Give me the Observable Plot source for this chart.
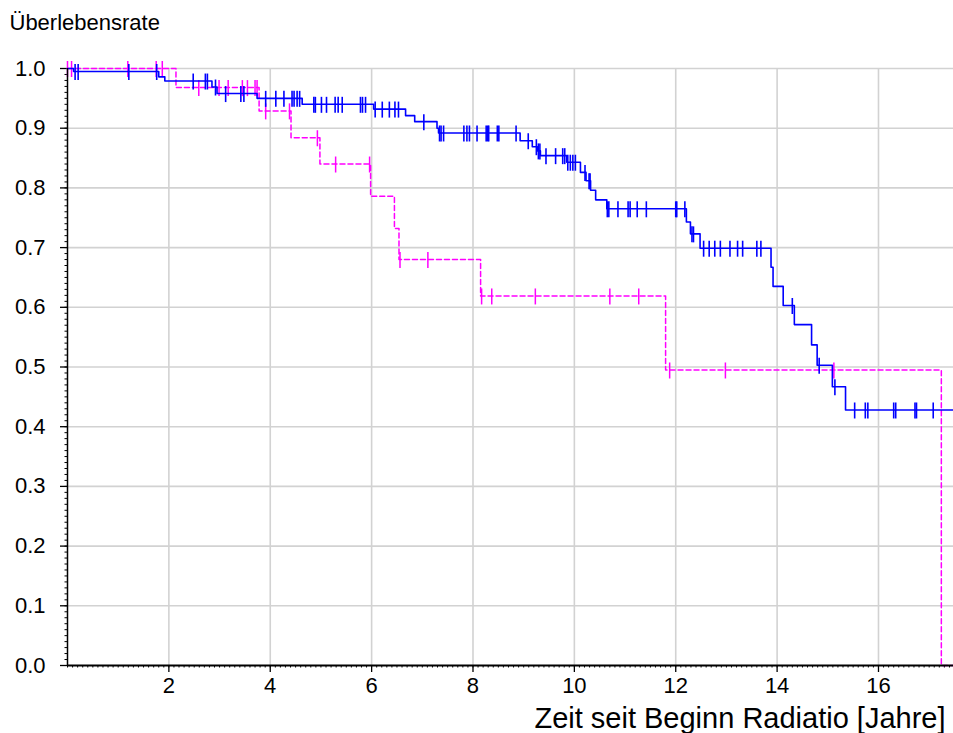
<!DOCTYPE html>
<html>
<head>
<meta charset="utf-8">
<script src="https://cdn.jsdelivr.net/npm/d3@7"></script>
<script src="https://cdn.jsdelivr.net/npm/@observablehq/plot@0.6"></script>
<style>
  html, body { margin: 0; padding: 0; background: #fff; }
  #chart svg { display: block; }
</style>
</head>
<body>
<div id="chart"></div>
<script>
// ---- data ----
const xMax = 17.48;
const xTicks = [2, 4, 6, 8, 10, 12, 14, 16];
const yTicks = [0, 0.1, 0.2, 0.3, 0.4, 0.5, 0.6, 0.7, 0.8, 0.9, 1.0];

// blue curve (solid): event times and survival after the event
const blueTimes = [0, 0.12, 1.80, 1.92, 2.85, 2.95, 3.74, 4.63, 6.04, 6.67, 6.85, 7.29, 7.32, 8.93, 9.17, 9.27, 9.33, 9.85, 10.12, 10.23, 10.32, 10.42, 10.64, 12.21, 12.29, 12.48, 13.88, 13.92, 14.12, 14.34, 14.68, 14.79, 15.09, 15.35];
const blueSurv  = [1.0, 0.995, 0.986, 0.979, 0.969, 0.958, 0.950, 0.940, 0.932, 0.921, 0.911, 0.900, 0.892, 0.879, 0.869, 0.862, 0.854, 0.843, 0.826, 0.812, 0.796, 0.780, 0.765, 0.743, 0.723, 0.699, 0.667, 0.635, 0.603, 0.571, 0.537, 0.503, 0.467, 0.428];
const blueCensor = [0.15, 0.21, 1.21, 1.76, 2.48, 2.72, 2.76, 2.92, 3.12, 3.42, 3.48, 3.91, 4.11, 4.27, 4.43, 4.47, 4.53, 4.58, 4.86, 4.89, 5.01, 5.11, 5.28, 5.34, 5.42, 5.78, 5.82, 5.88, 6.07, 6.21, 6.35, 6.46, 6.53, 7.03, 7.34, 7.37, 7.42, 7.82, 7.88, 7.93, 8.08, 8.26, 8.29, 8.31, 8.48, 8.51, 8.85, 9.09, 9.25, 9.29, 9.32, 9.44, 9.63, 9.77, 9.81, 9.87, 9.92, 9.97, 10.02, 10.21, 10.29, 10.31, 10.65, 10.68, 10.86, 11.06, 11.10, 11.24, 11.42, 12.00, 12.02, 12.18, 12.32, 12.35, 12.55, 12.66, 12.77, 12.88, 13.07, 13.22, 13.32, 13.60, 13.68, 14.30, 14.83, 15.14, 15.53, 15.74, 15.79, 16.30, 16.34, 16.72, 16.75, 17.08];

// magenta curve (dashed)
const magTimes = [0, 2.14, 3.78, 4.41, 4.98, 5.98, 6.45, 6.54, 8.15, 11.80, 17.24];
const magSurv  = [1.0, 0.968, 0.929, 0.884, 0.840, 0.786, 0.732, 0.680, 0.619, 0.495, 0.0];
const magCensor = [0.0, 0.08, 1.19, 1.75, 1.87, 2.59, 2.99, 3.17, 3.45, 3.55, 3.70, 3.74, 3.91, 4.38, 4.93, 5.29, 5.96, 6.56, 7.11, 8.17, 8.37, 9.23, 10.70, 11.27, 11.88, 12.98, 15.12];

// ---- helpers ----
function steps(times, surv, end) {
  const pts = times.map((t, i) => ({t, s: surv[i]}));
  pts.push({t: end, s: surv[surv.length - 1]});
  return pts;
}
function survAt(times, surv, t) {
  let v = surv[0];
  for (let i = 0; i < times.length; i++) if (times[i] <= t) v = surv[i];
  return v;
}
const blueLine = steps(blueTimes, blueSurv, xMax);
const magLine = steps(magTimes, magSurv, xMax);
const blueMarks = blueCensor.map(t => ({t, s: survAt(blueTimes, blueSurv, t)}));
const magMarks = magCensor.map(t => ({t, s: survAt(magTimes, magSurv, t)}));

const yMinor = d3.range(0, 101).map(i => i / 100);
const xMinor = d3.range(0, Math.floor(xMax * 10) + 1).map(i => i / 10);

const BLUE = "#0000ff";
const MAGENTA = "#ff00ff";
const GRID = "#d2d2d2";

const chart = Plot.plot({
  width: 953,
  height: 733,
  marginLeft: 67,
  marginRight: 0,
  marginTop: 68,
  marginBottom: 68,
  style: {fontFamily: "'Liberation Sans', Arial, sans-serif", fontSize: "22px", background: "#fff", color: "#000"},
  x: {domain: [0, xMax]},
  y: {domain: [0, 1]},
  marks: [
    Plot.gridX(xTicks, {stroke: GRID, strokeOpacity: 1, strokeWidth: 1.6}),
    Plot.gridY(yTicks.filter(d => d > 0), {stroke: GRID, strokeOpacity: 1, strokeWidth: 1.6}),
    Plot.axisY(yMinor, {tickSize: 2.5, tickFormat: () => "", label: null, strokeWidth: 1}),
    Plot.axisY(yTicks, {tickSize: 7, tickPadding: 15, tickFormat: d3.format(".1f"), label: null, strokeWidth: 1.3}),
    Plot.axisX(xMinor, {tickSize: 2.5, tickFormat: () => "", label: null, strokeWidth: 1}),
    Plot.axisX(xTicks, {tickSize: 7, tickPadding: 5, tickFormat: d => String(d), label: null, strokeWidth: 1.3}),
    Plot.line(magLine, {x: "t", y: "s", curve: "step-after", stroke: MAGENTA, strokeWidth: 1.5, strokeDasharray: "5,3"}),
    Plot.ruleX(magMarks, {x: "t", y1: "s", y2: "s", insetTop: -7, insetBottom: -9, stroke: MAGENTA, strokeWidth: 1.5}),
    Plot.line(blueLine, {x: "t", y: "s", curve: "step-after", stroke: BLUE, strokeWidth: 1.6}),
    Plot.ruleX(blueMarks, {x: "t", y1: "s", y2: "s", insetTop: -7, insetBottom: -9, stroke: BLUE, strokeWidth: 1.6}),
    Plot.ruleX([0], {stroke: "#000", strokeWidth: 1.5}),
    Plot.ruleY([0], {stroke: "#000", strokeWidth: 2}),
    Plot.text(["Überlebensrate"], {text: d => d, frameAnchor: "top-left", dx: -58, dy: -54, textAnchor: "start", lineAnchor: "top", fontSize: 22, fill: "#000"}),
    Plot.text(["Zeit seit Beginn Radiatio [Jahre]"], {text: d => d, frameAnchor: "bottom-right", dx: -8, dy: 42, textAnchor: "end", lineAnchor: "top", fontSize: 29, fill: "#000"})
  ]
});
document.getElementById("chart").appendChild(chart);
</script>
</body>
</html>
